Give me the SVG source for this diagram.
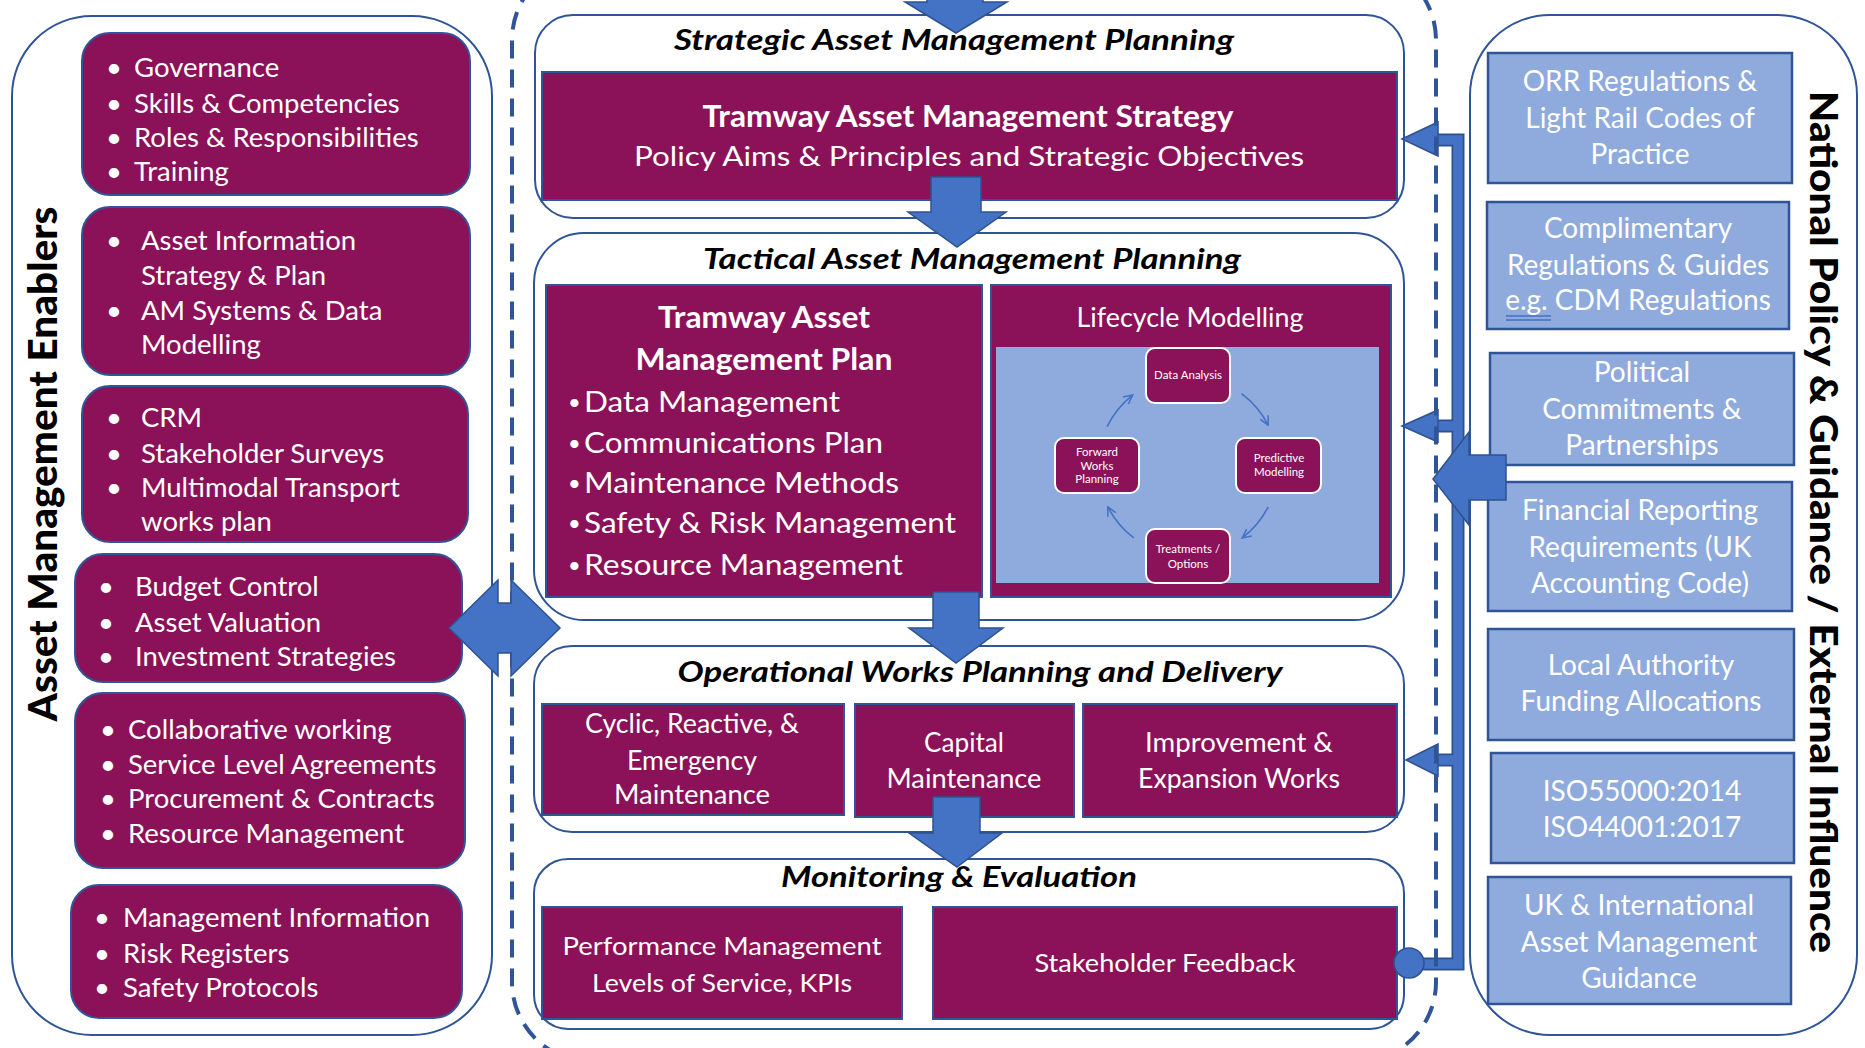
<svg xmlns="http://www.w3.org/2000/svg" width="1865" height="1048" viewBox="0 0 1865 1048">
  <defs>
    <style>
      text { font-family: Lato, "Liberation Sans", sans-serif; }
      .panel { fill: #fff; stroke: #2F5597; stroke-width: 2; }
      .pur { fill: #8B1258; stroke: #2F5597; stroke-width: 2; }
      .lb { fill: #8FAADC; stroke: #2F5597; stroke-width: 2.5; }
      .blk { fill: #4472C4; stroke: #2F528F; stroke-width: 1.5; stroke-linejoin: miter; }
      .w { fill: #fff; }
      .lt { font-size: 27.5px; fill: #fff; }
      .rt { font-size: 28px; fill: #fff; text-anchor: middle; }
      .ttl { font-size: 28px; font-weight: bold; font-style: italic; fill: #000; text-anchor: middle; }
      .ct { fill: #fff; text-anchor: middle; }
      .vt { font-weight: 900; fill: #000; text-anchor: middle; }
      .cyc { fill: #8B1258; stroke: #fff; stroke-width: 2; }
      .cyt { font-size: 11.5px; fill: #fff; text-anchor: middle; }
      .carc { fill: none; stroke: #4472C4; stroke-width: 1.6; marker-end: url(#chev); }
    </style>
    <marker id="chev" viewBox="0 0 10 10" refX="9" refY="5" markerWidth="11" markerHeight="11" markerUnits="userSpaceOnUse" orient="auto">
      <path d="M1,1 L9,5 L1,9" fill="none" stroke="#4472C4" stroke-width="1.4"/>
    </marker>
  </defs>

  <rect width="1865" height="1048" fill="#fff"/>

  <!-- Left column: enablers -->
  <g id="enablers-panel">
    <rect class="panel" x="12" y="16" width="480" height="1019" rx="80"/>
    <text class="vt" transform="translate(57,464) rotate(-90)" font-size="40" textLength="515" lengthAdjust="spacingAndGlyphs">Asset Management Enablers</text>
  </g>

  <g id="enabler-governance">
    <rect class="pur" x="82" y="33" width="388" height="162" rx="28"/>
    <text class="lt" y="77"><tspan x="106">•</tspan><tspan x="134">Governance</tspan></text>
    <text class="lt" y="113"><tspan x="106">•</tspan><tspan x="134">Skills &amp; Competencies</tspan></text>
    <text class="lt" y="147"><tspan x="106">•</tspan><tspan x="134">Roles &amp; Responsibilities</tspan></text>
    <text class="lt" y="181"><tspan x="106">•</tspan><tspan x="134">Training</tspan></text>
  </g>

  <g id="enabler-information">
    <rect class="pur" x="82" y="207" width="388" height="168" rx="28"/>
    <text class="lt" y="250"><tspan x="106">•</tspan><tspan x="141">Asset Information</tspan></text>
    <text class="lt" x="141" y="285">Strategy &amp; Plan</text>
    <text class="lt" y="320"><tspan x="106">•</tspan><tspan x="141">AM Systems &amp; Data</tspan></text>
    <text class="lt" x="141" y="354">Modelling</text>
  </g>

  <g id="enabler-stakeholders">
    <rect class="pur" x="82" y="386" width="386" height="156" rx="28"/>
    <text class="lt" y="427"><tspan x="106">•</tspan><tspan x="141">CRM</tspan></text>
    <text class="lt" y="463"><tspan x="106">•</tspan><tspan x="141">Stakeholder Surveys</tspan></text>
    <text class="lt" y="497"><tspan x="106">•</tspan><tspan x="141">Multimodal Transport</tspan></text>
    <text class="lt" x="141" y="531">works plan</text>
  </g>

  <g id="enabler-finance">
    <rect class="pur" x="75" y="554" width="387" height="128" rx="28"/>
    <text class="lt" y="596"><tspan x="98">•</tspan><tspan x="135">Budget Control</tspan></text>
    <text class="lt" y="632"><tspan x="98">•</tspan><tspan x="135">Asset Valuation</tspan></text>
    <text class="lt" y="666"><tspan x="98">•</tspan><tspan x="135">Investment Strategies</tspan></text>
  </g>

  <g id="enabler-delivery">
    <rect class="pur" x="75" y="693" width="390" height="175" rx="28"/>
    <text class="lt" y="739"><tspan x="100">•</tspan><tspan x="128">Collaborative working</tspan></text>
    <text class="lt" y="774"><tspan x="100">•</tspan><tspan x="128">Service Level Agreements</tspan></text>
    <text class="lt" y="808"><tspan x="100">•</tspan><tspan x="128">Procurement &amp; Contracts</tspan></text>
    <text class="lt" y="843"><tspan x="100">•</tspan><tspan x="128">Resource Management</tspan></text>
  </g>

  <g id="enabler-risk">
    <rect class="pur" x="71" y="885" width="391" height="133" rx="28"/>
    <text class="lt" y="927"><tspan x="94">•</tspan><tspan x="123">Management Information</tspan></text>
    <text class="lt" y="963"><tspan x="94">•</tspan><tspan x="123">Risk Registers</tspan></text>
    <text class="lt" y="997"><tspan x="94">•</tspan><tspan x="123">Safety Protocols</tspan></text>
  </g>

  <!-- Right column: external influences -->
  <g id="external-panel">
    <rect class="panel" x="1470" y="15" width="387" height="1020" rx="80"/>
    <text class="vt" transform="translate(1810,522) rotate(90)" font-size="37" textLength="862" lengthAdjust="spacingAndGlyphs">National Policy &amp; Guidance / External Influence</text>
  </g>

  <g id="ext-orr">
    <rect class="lb" x="1488" y="53" width="304" height="130"/>
    <text class="rt" x="1640" y="91">ORR Regulations &amp;</text>
    <text class="rt" x="1640" y="128">Light Rail Codes of</text>
    <text class="rt" x="1640" y="164">Practice</text>
  </g>

  <g id="ext-complementary">
    <rect class="lb" x="1487" y="202" width="302" height="127"/>
    <text class="rt" x="1638" y="238">Complimentary</text>
    <text class="rt" x="1638" y="275">Regulations &amp; Guides</text>
    <text class="rt" x="1638" y="310">e.g. CDM Regulations</text>
    <path d="M1506,316 H1551 M1506,320 H1551" stroke="#4472C4" stroke-width="1.4" fill="none"/>
  </g>

  <g id="ext-political">
    <rect class="lb" x="1490" y="353" width="304" height="112"/>
    <text class="rt" x="1642" y="382">Political</text>
    <text class="rt" x="1642" y="419">Commitments &amp;</text>
    <text class="rt" x="1642" y="455">Partnerships</text>
  </g>

  <g id="ext-financial">
    <rect class="lb" x="1488" y="482" width="304" height="129"/>
    <text class="rt" x="1640" y="520">Financial Reporting</text>
    <text class="rt" x="1640" y="557">Requirements (UK</text>
    <text class="rt" x="1640" y="593">Accounting Code)</text>
  </g>

  <g id="ext-funding">
    <rect class="lb" x="1488" y="629" width="306" height="111"/>
    <text class="rt" x="1641" y="675">Local Authority</text>
    <text class="rt" x="1641" y="711">Funding Allocations</text>
  </g>

  <g id="ext-iso">
    <rect class="lb" x="1491" y="753" width="303" height="110"/>
    <text class="rt" x="1642" y="801">ISO55000:2014</text>
    <text class="rt" x="1642" y="837">ISO44001:2017</text>
  </g>

  <g id="ext-guidance">
    <rect class="lb" x="1488" y="877" width="303" height="127"/>
    <text class="rt" x="1639" y="915">UK &amp; International</text>
    <text class="rt" x="1639" y="952">Asset Management</text>
    <text class="rt" x="1639" y="988">Guidance</text>
  </g>

  <!-- Centre column: planning stages -->
  <g id="strategic">
    <rect class="panel" x="535" y="15" width="869" height="203" rx="38"/>
    <text class="ttl" x="954" y="50" textLength="560" lengthAdjust="spacingAndGlyphs">Strategic Asset Management Planning</text>
    <rect class="pur" x="542" y="72" width="855" height="128"/>
    <text class="ct" x="968" y="127" font-size="30" font-weight="bold" textLength="531" lengthAdjust="spacingAndGlyphs">Tramway Asset Management Strategy</text>
    <text class="ct" x="969" y="166" font-size="27" textLength="670" lengthAdjust="spacingAndGlyphs">Policy Aims &amp; Principles and Strategic Objectives</text>
  </g>

  <g id="tactical">
    <rect class="panel" x="534" y="233" width="870" height="387" rx="50"/>
    <text class="ttl" x="972" y="269" textLength="538" lengthAdjust="spacingAndGlyphs">Tactical Asset Management Planning</text>
  </g>

  <g id="asset-management-plan">
    <rect class="pur" x="546" y="285" width="436" height="312"/>
    <text class="ct" x="764" y="328" font-size="30" font-weight="bold" textLength="212" lengthAdjust="spacingAndGlyphs">Tramway Asset</text>
    <text class="ct" x="764" y="370" font-size="30" font-weight="bold" textLength="257" lengthAdjust="spacingAndGlyphs">Management Plan</text>
    <g class="w" font-size="29">
      <text x="568" y="410" font-size="22">•</text><text x="584" y="412" textLength="256" lengthAdjust="spacingAndGlyphs">Data Management</text>
      <text x="568" y="451" font-size="22">•</text><text x="584" y="453" textLength="299" lengthAdjust="spacingAndGlyphs">Communications Plan</text>
      <text x="568" y="491" font-size="22">•</text><text x="584" y="493" textLength="315" lengthAdjust="spacingAndGlyphs">Maintenance Methods</text>
      <text x="568" y="531" font-size="22">•</text><text x="584" y="533" textLength="372" lengthAdjust="spacingAndGlyphs">Safety &amp; Risk Management</text>
      <text x="568" y="573" font-size="22">•</text><text x="584" y="575" textLength="319" lengthAdjust="spacingAndGlyphs">Resource Management</text>
    </g>
  </g>

  <g id="lifecycle-modelling">
    <rect class="pur" x="991" y="285" width="400" height="312"/>
    <text class="ct" x="1190" y="327" font-size="26" textLength="227" lengthAdjust="spacingAndGlyphs">Lifecycle Modelling</text>
    <rect x="996" y="347" width="383" height="236" fill="#8FAADC"/>
  </g>

  <g id="cycle-data-analysis">
    <rect class="cyc" x="1146" y="348" width="84" height="55" rx="9"/>
    <text class="cyt" x="1188" y="379">Data Analysis</text>
  </g>
  <g id="cycle-predictive">
    <rect class="cyc" x="1236" y="438" width="85" height="55" rx="9"/>
    <text class="cyt" x="1279" y="462">Predictive</text>
    <text class="cyt" x="1279" y="476">Modelling</text>
  </g>
  <g id="cycle-treatments">
    <rect class="cyc" x="1146" y="529" width="84" height="54" rx="9"/>
    <text class="cyt" x="1188" y="553">Treatments /</text>
    <text class="cyt" x="1188" y="568">Options</text>
  </g>
  <g id="cycle-forward">
    <rect class="cyc" x="1055" y="438" width="84" height="55" rx="9"/>
    <text class="cyt" x="1097" y="456">Forward</text>
    <text class="cyt" x="1097" y="470">Works</text>
    <text class="cyt" x="1097" y="483">Planning</text>
  </g>

  <g id="operational">
    <rect class="panel" x="534" y="646" width="870" height="186" rx="38"/>
    <text class="ttl" x="980" y="682" textLength="605" lengthAdjust="spacingAndGlyphs">Operational Works Planning and Delivery</text>
  </g>
  <g id="op-cyclic">
    <rect class="pur" x="542" y="704" width="302" height="111"/>
    <text class="ct" x="692" y="733" font-size="26" textLength="214" lengthAdjust="spacingAndGlyphs">Cyclic, Reactive, &amp;</text>
    <text class="ct" x="692" y="770" font-size="26" textLength="130" lengthAdjust="spacingAndGlyphs">Emergency</text>
    <text class="ct" x="692" y="804" font-size="26" textLength="156" lengthAdjust="spacingAndGlyphs">Maintenance</text>
  </g>
  <g id="op-capital">
    <rect class="pur" x="855" y="704" width="219" height="113"/>
    <text class="ct" x="964" y="752" font-size="26" textLength="80" lengthAdjust="spacingAndGlyphs">Capital</text>
    <text class="ct" x="964" y="788" font-size="26" textLength="155" lengthAdjust="spacingAndGlyphs">Maintenance</text>
  </g>
  <g id="op-improvement">
    <rect class="pur" x="1083" y="704" width="314" height="113"/>
    <text class="ct" x="1239" y="752" font-size="26" textLength="188" lengthAdjust="spacingAndGlyphs">Improvement &amp;</text>
    <text class="ct" x="1239" y="788" font-size="26" textLength="202" lengthAdjust="spacingAndGlyphs">Expansion Works</text>
  </g>

  <g id="monitoring">
    <rect class="panel" x="534" y="859" width="870" height="170" rx="34"/>
    <text class="ttl" x="959" y="887" textLength="356" lengthAdjust="spacingAndGlyphs">Monitoring &amp; Evaluation</text>
  </g>
  <g id="mon-performance">
    <rect class="pur" x="542" y="907" width="360" height="112"/>
    <text class="ct" x="722" y="955" font-size="25" textLength="319" lengthAdjust="spacingAndGlyphs">Performance Management</text>
    <text class="ct" x="722" y="992" font-size="25" textLength="260" lengthAdjust="spacingAndGlyphs">Levels of Service, KPIs</text>
  </g>
  <g id="mon-feedback">
    <rect class="pur" x="933" y="907" width="464" height="112"/>
    <text class="ct" x="1165" y="972" font-size="25" textLength="261" lengthAdjust="spacingAndGlyphs">Stakeholder Feedback</text>
  </g>

  <!-- Connectors -->
  <g id="connectors">
    <!-- lifecycle loop -->
    <path class="carc" d="M1107.1,426.6 A90,90 0 0 1 1132.6,395.1"/>
    <path class="carc" d="M1241.5,393.6 A90,90 0 0 1 1268.2,425.1"/>
    <path class="carc" d="M1268.2,506.9 A90,90 0 0 1 1242.2,537.9"/>
    <path class="carc" d="M1133.8,537.9 A90,90 0 0 1 1107.8,506.9"/>

    <!-- stage-to-stage block arrows -->
    <polygon class="blk" points="927,-10 983,-10 983,2 1007,2 956,33 905,2 927,2"/>
    <polygon class="blk" points="931,177 981,177 981,212 1006,212 957,247 908,212 931,212"/>
    <polygon class="blk" points="933,592 979,592 979,628 1003,628 956,663 909,628 933,628"/>
    <polygon class="blk" points="933,797 980,797 980,833 1002,833 957,867 909,833 933,833"/>

    <!-- feedback loop from stakeholder feedback -->
    <g fill="none" stroke-linejoin="miter">
      <path d="M1409,964 H1458 V140 H1434 M1458,426 H1434 M1458,760 H1434" stroke="#2F528F" stroke-width="13"/>
      <path d="M1409,964 H1458 V140 H1434 M1458,426 H1434 M1458,760 H1434" stroke="#4472C4" stroke-width="9.5"/>
    </g>
    <polygon class="blk" points="1402,139 1438,122 1438,156"/>
    <polygon class="blk" points="1402,426 1438,410 1438,442"/>
    <polygon class="blk" points="1406,760 1438,744 1438,776"/>
    <circle class="blk" cx="1409" cy="963" r="15"/>

    <!-- external influence into planning -->
    <polygon class="blk" points="1433,479 1469,432 1469,455 1506,455 1506,500 1469,500 1469,525"/>

    <!-- boundary around the planning cycle -->
    <rect x="512" y="-40" width="924" height="1102" rx="80" fill="none" stroke="#2F5597" stroke-width="4" stroke-dasharray="18 11"/>

    <!-- enablers to planning -->
    <polygon class="blk" points="449,628 498,580 498,603 511,603 511,580 560,628 511,676 511,653 498,653 498,676"/>
  </g>
</svg>
